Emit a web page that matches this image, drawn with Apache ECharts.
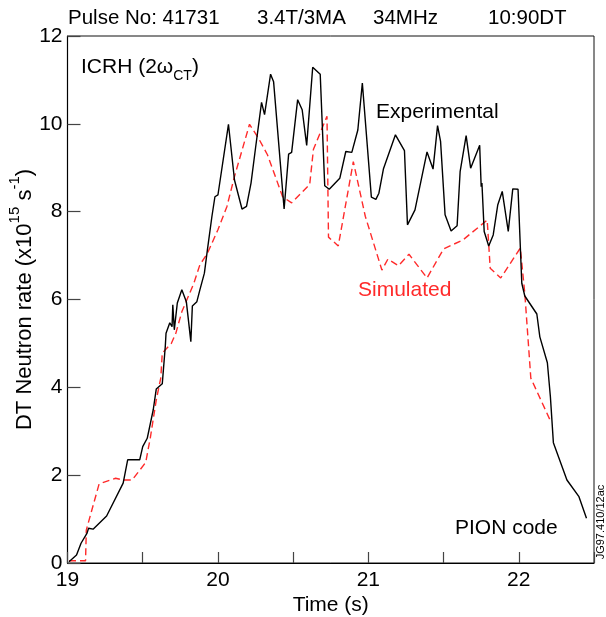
<!DOCTYPE html>
<html>
<head>
<meta charset="utf-8">
<script src="https://cdn.jsdelivr.net/npm/echarts@6/dist/echarts.min.js"></script>
<style>
html,body{margin:0;padding:0;background:#fff;}
#chart{width:606px;height:617px;}
</style>
</head>
<body>
<div id="chart"></div>
<script>
// Experimental neutron rate (time in s, rate in 1e15 s^-1)
const expTime = [19.01,19.06,19.09,19.13,19.14,19.17,19.26,19.37,19.40,19.48,19.50,19.53,19.57,19.59,19.63,19.65,19.655,19.68,19.695,19.70,19.71,19.73,19.76,19.79,19.82,19.83,19.86,19.88,19.91,19.93,19.96,19.98,20.00,20.07,20.11,20.16,20.19,20.22,20.25,20.29,20.31,20.35,20.37,20.44,20.47,20.49,20.53,20.56,20.59,20.63,20.68,20.71,20.74,20.81,20.85,20.89,20.93,20.96,21.02,21.05,21.07,21.10,21.18,21.24,21.26,21.31,21.39,21.43,21.46,21.48,21.51,21.55,21.59,21.61,21.65,21.68,21.74,21.75,21.755,21.77,21.80,21.83,21.86,21.89,21.93,21.96,21.995,22.02,22.04,22.12,22.14,22.19,22.21,22.23,22.32,22.40,22.45];
const expRate = [0.03,0.18,0.45,0.68,0.79,0.77,1.07,1.82,2.35,2.35,2.65,2.84,3.49,3.96,4.08,4.93,5.23,5.47,5.38,5.88,5.31,5.92,6.22,5.95,5.04,5.85,5.95,6.22,6.60,7.13,7.89,8.34,8.38,9.99,8.72,8.06,8.12,8.65,9.45,10.49,10.21,11.13,10.96,8.06,9.31,9.35,10.55,10.32,9.51,11.29,11.13,8.59,8.51,8.76,9.37,9.35,9.86,10.93,8.33,8.28,8.42,8.97,9.75,9.39,7.70,8.04,9.36,8.97,9.96,9.60,7.93,7.56,7.68,8.91,9.73,8.99,9.51,8.57,8.65,7.55,7.22,7.47,8.15,8.46,7.55,8.52,8.51,6.37,6.08,5.67,5.15,4.56,3.79,2.74,1.89,1.51,1.02];
// Simulated (PION code)
const simTime = [19.01,19.12,19.125,19.21,19.32,19.37,19.43,19.52,19.55,19.59,19.62,19.63,19.69,19.72,19.76,19.84,19.88,19.93,20.00,20.06,20.11,20.21,20.27,20.33,20.43,20.49,20.61,20.635,20.725,20.735,20.80,20.90,20.98,21.09,21.13,21.20,21.27,21.39,21.50,21.63,21.79,21.81,21.88,22.01,22.04,22.08,22.21];
const simRate = [0.05,0.05,0.75,1.80,1.93,1.89,1.89,2.29,2.84,3.71,4.21,4.78,5.00,5.23,5.72,6.37,6.79,7.05,7.59,8.12,8.80,9.99,9.67,9.29,8.34,8.20,8.62,9.42,10.17,7.42,7.22,9.14,7.89,6.67,6.92,6.77,7.03,6.49,7.15,7.36,7.81,6.71,6.49,7.17,6.14,4.21,3.24];
const yTicks = [0,2,4,6,8,10,12];
const xTickLabels = ['19','20','21','22'];

const expData = expTime.map((t,i)=>[t,expRate[i]]);
const simData = simTime.map((t,i)=>[t,simRate[i]]);

const FONT = 'Liberation Sans, Arial, Helvetica, sans-serif';
const RED = '#ff2a2a';

const chart = echarts.init(document.getElementById('chart'), null, {renderer:'canvas'});
chart.setOption({
  animation:false,
  backgroundColor:'#fff',
  grid:{left:67.5,right:12,top:36,bottom:54,show:true,borderColor:'#111',borderWidth:1,containLabel:false,outerBoundsMode:'none'},
  xAxis:{
    type:'value',min:19,max:22.5,interval:0.5,
    name:'Time (s)',nameLocation:'middle',nameGap:32,nameMoveOverlap:false,
    nameTextStyle:{fontFamily:FONT,fontSize:21,color:'#000'},
    axisLine:{show:true,lineStyle:{color:'#000',width:1.2}},
    axisTick:{show:true,inside:true,length:11,lineStyle:{color:'#444',width:1.2}},
    axisLabel:{show:true,margin:7,fontFamily:FONT,fontSize:21,color:'#000',
      formatter:v=>{const s=String(Math.round(v)); return (Math.abs(v-Math.round(v))<1e-6 && xTickLabels.includes(s))?s:'';}},
    splitLine:{show:false}
  },
  yAxis:{
    type:'value',min:0,max:12,interval:2,
    name:'{a|DT Neutron rate (x10}{s|15}{a| s}{s|-1}{a|)}',
    nameLocation:'middle',nameGap:32,nameRotate:90,nameMoveOverlap:false,
    nameTextStyle:{fontFamily:FONT,fontSize:22,color:'#000',
      rich:{a:{fontFamily:FONT,fontSize:22,color:'#000',lineHeight:28,verticalAlign:'bottom'},
            s:{fontFamily:FONT,fontSize:15,color:'#000',lineHeight:28,verticalAlign:'top'}}},
    axisLine:{show:true,lineStyle:{color:'#000',width:1.2}},
    axisTick:{show:true,inside:true,length:13,lineStyle:{color:'#444',width:1.2}},
    axisLabel:{show:true,margin:5,fontFamily:FONT,fontSize:21,color:'#000',
      formatter:v=>yTicks.includes(v)?String(v):''},
    splitLine:{show:false}
  },
  series:[
    {type:'line',data:expData,showSymbol:false,symbol:'none',
     lineStyle:{color:'#000',width:1.4},z:3},
    {type:'line',data:simData,showSymbol:false,symbol:'none',
     lineStyle:{color:RED,width:1.4,type:[7,4]},z:2}
  ],
  graphic:[
    {type:'text',x:68,y:18,style:{text:'Pulse No: 41731',font:'20.5px '+FONT,fill:'#000',align:'left',verticalAlign:'middle'}},
    {type:'text',x:257,y:18,style:{text:'3.4T/3MA',font:'20.5px '+FONT,fill:'#000',align:'left',verticalAlign:'middle'}},
    {type:'text',x:373,y:18,style:{text:'34MHz',font:'20.5px '+FONT,fill:'#000',align:'left',verticalAlign:'middle'}},
    {type:'text',x:488,y:18,style:{text:'10:90DT',font:'20.5px '+FONT,fill:'#000',align:'left',verticalAlign:'middle'}},
    {type:'text',x:81,y:70,style:{text:'{a|ICRH (2ω}{s|CT}{a|)}',align:'left',verticalAlign:'middle',
      rich:{a:{fontFamily:FONT,fontSize:21,fill:'#000',lineHeight:27,verticalAlign:'top'},
            s:{fontFamily:FONT,fontSize:14,fill:'#000',lineHeight:27,verticalAlign:'bottom'}}}},
    {type:'text',x:376,y:112,style:{text:'Experimental',font:'21px '+FONT,fill:'#000',align:'left',verticalAlign:'middle'}},
    {type:'text',x:358,y:290,style:{text:'Simulated',font:'21px '+FONT,fill:RED,align:'left',verticalAlign:'middle'}},
    {type:'text',x:455,y:528,style:{text:'PION code',font:'21px '+FONT,fill:'#000',align:'left',verticalAlign:'middle'}},
    {type:'text',x:601,y:522,rotation:Math.PI/2,style:{text:'JG97.410/12ac',font:'11px '+FONT,fill:'#000',align:'center',verticalAlign:'middle'}}
  ]
});
</script>
</body>
</html>
